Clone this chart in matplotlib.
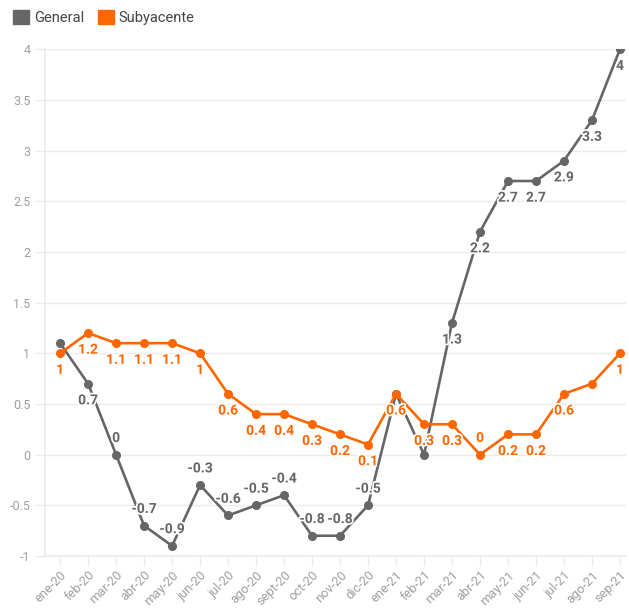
import matplotlib
matplotlib.use("Agg")
import matplotlib.pyplot as plt
import matplotlib.patheffects as pe
from matplotlib.patches import Patch

plt.rcParams['font.family'] = ['Roboto', 'DejaVu Sans']

meses = ["ene-20", "feb-20", "mar-20", "abr-20", "may-20", "jun-20", "jul-20",
         "ago-20", "sept-20", "oct-20", "nov-20", "dic-20", "ene-21", "feb-21",
         "mar-21", "abr-21", "may-21", "jun-21", "jul-21", "ago-21", "sep-21"]
general = [1.1, 0.7, 0, -0.7, -0.9, -0.3, -0.6, -0.5, -0.4, -0.8, -0.8, -0.5,
           0.6, 0, 1.3, 2.2, 2.7, 2.7, 2.9, 3.3, 4]
subyacente = [1, 1.2, 1.1, 1.1, 1.1, 1, 0.6, 0.4, 0.4, 0.3, 0.2, 0.1,
              0.6, 0.3, 0.3, 0, 0.2, 0.2, 0.6, 0.7, 1]
# etiquetas que no se ven en el original
ocultas_general = [0, 12, 13]
ocultas_sub = [19]

gris = "#666666"
naranja = "#ff6600"

fig = plt.figure(figsize=(6.29, 6.08), dpi=100)
ax = fig.add_axes([0.0715, 0.0855, 0.9235, 0.8335])

x = list(range(len(meses)))
ax.plot(x, general, color=gris, lw=1.9, marker="o", ms=5.5, zorder=3)
ax.plot(x, subyacente, color=naranja, lw=1.9, marker="o", ms=5.5, zorder=4)

def etiquetas(vals, color, ocultas):
    for i, v in enumerate(vals):
        if i in ocultas:
            continue
        dy = -12 if v > 0 else 12
        txt = ("%g" % v)
        ax.annotate(txt, (i, v), xytext=(0, dy), textcoords="offset points",
                    ha="center", va="center", fontsize=10, fontweight="bold",
                    color=color, zorder=6,
                    path_effects=[pe.withStroke(linewidth=2.5, foreground="white")])

etiquetas(general, gris, ocultas_general)
etiquetas(subyacente, naranja, ocultas_sub)

ax.set_xlim(-0.54, 20.21)
ax.set_ylim(-1, 4)
ax.set_yticks([-1, -0.5, 0, 0.5, 1, 1.5, 2, 2.5, 3, 3.5, 4])
ax.set_yticklabels(["-1", "-0.5", "0", "0.5", "1", "1.5", "2", "2.5", "3", "3.5", "4"])
ax.set_xticks(x)
ax.set_xticklabels(meses, rotation=45, ha="right", rotation_mode="anchor")
ax.grid(axis="y", color="#ebebeb", lw=1)
ax.set_axisbelow(True)
for s in ["top", "right"]:
    ax.spines[s].set_visible(False)
ax.spines["left"].set_color("#ebebeb")
ax.spines["bottom"].set_color("#ebebeb")
ax.spines["left"].set_linewidth(1.2)
ax.spines["bottom"].set_linewidth(1.2)
ax.tick_params(axis="both", colors="#ebebeb", labelcolor="#a0a0a0",
               labelsize=9, length=7, width=1)
ax.tick_params(axis="x", labelsize=9.3, pad=2)

handles = [Patch(color=gris, label="General"), Patch(color=naranja, label="Subyacente")]
fig.legend(handles=handles, loc="upper left", bbox_to_anchor=(0.0, 1.005), ncol=2,
           frameon=False, handlelength=1.1, handleheight=1.1, handletextpad=0.35,
           columnspacing=0.9, fontsize=10.5, labelcolor="#444444")

fig.savefig("out.png", dpi=100)
